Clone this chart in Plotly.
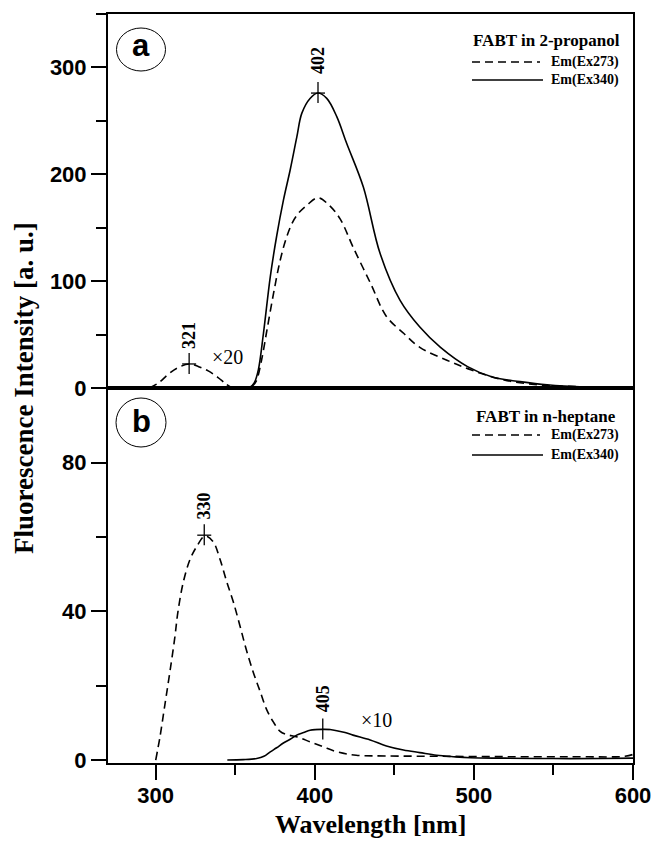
import plotly.graph_objects as go
from plotly.subplots import make_subplots

# ---------------- data ----------------
# Panel a: FABT in 2-propanol
wl_a_ex273 = [287, 300, 320, 340, 355, 360, 363, 366.5, 370, 374, 378, 382, 386, 390, 395, 402,
              409, 416, 424, 435, 445, 456, 466, 483, 498, 519, 540, 560, 580, 600]
int_a_ex273 = [0, 0, 0, 0, 0, 1, 6, 26, 55, 88, 118, 140, 155, 164, 171, 178,
               171, 158, 132, 98, 67, 51, 38, 26, 17, 7.5, 3, 1.5, 0.8, 0.3]

wl_a_ex273_x20 = [296, 302, 308, 314, 321, 327, 333, 339, 344, 348]
int_a_ex273_x20 = [0, 5, 13, 19, 22.5, 20, 16, 10, 4, 0]

wl_a_ex340 = [347, 355, 359, 362, 364.5, 367.7, 372, 376, 380.3, 384.5, 388.7, 391.8, 397, 402,
              407.5, 413.8, 420, 430.5, 441, 453.6, 466, 479, 496, 512, 529, 546, 570, 600]
int_a_ex340 = [0, 0, 0.5, 5, 17, 51, 104, 142, 176, 204, 235, 257, 271, 276,
               271, 254, 229, 188, 126, 82, 57, 38, 20, 10, 6, 3, 1, 0.3]

# Panel b: FABT in n-heptane
wl_b_ex273 = [300, 302.7, 305.8, 309, 312, 314, 317.4, 321.6, 325.7, 331, 336, 340.4, 344.6, 348.8,
              353, 357, 361.4, 365.6, 369.8, 374, 378, 382, 389, 397, 405, 414, 426, 445, 480,
              520, 560, 595, 600]
int_b_ex273 = [0, 6.3, 15, 24, 33, 40, 48, 54, 57.4, 60.3, 58.8, 54, 48, 42.5,
               36, 29.6, 23.5, 18.5, 13.5, 10.2, 7.8, 6.9, 6.2, 4.9, 3.6, 2.2, 1.3, 1.1, 1.0,
               0.9, 0.9, 1.0, 1.5]

wl_b_ex340 = [345, 355, 363.5, 368, 372, 376, 380, 384.5, 388.6, 393, 397, 401, 405.4, 409.5,
              413.8, 419, 424, 434.8, 445, 455.7, 466, 476.6, 487, 497.7, 520, 550, 580, 600]
int_b_ex340 = [0, 0.1, 0.4, 1.0, 2.2, 3.3, 4.5, 5.6, 6.7, 7.4, 8.0, 8.2, 8.3, 8.2,
               7.9, 7.4, 6.7, 5.4, 3.8, 2.7, 2.0, 1.3, 0.9, 0.6, 0.5, 0.4, 0.4, 0.5]

# peak markers: (wavelength, intensity, label, label offset px)
peaks_a = [(321, 22.5, "321", 28), (402, 276, "402", 32)]
peaks_b = [(330.5, 60.5, "330", 29), (405, 8.2, "405", 31)]

x_ticks = [300, 400, 500, 600]
ya_ticks = [0, 100, 200, 300]
yb_ticks = [0, 40, 80]

# ---------------- geometry helpers ----------------
W, H = 652, 843
ML, MR, MT, MB = 108, 19, 14, 80
PW, PH = W - ML - MR, H - MT - MB
split = (763 - 388) / PH


def px(xp):
    return (xp - ML) / PW


def py(yp):
    return (H - MB - yp) / PH


DASH = "8px,5px"
LW = 1.6
BLACK = "#000000"

fig = make_subplots(rows=2, cols=1, shared_xaxes=True, vertical_spacing=0)

fig.add_trace(go.Scatter(x=wl_a_ex273, y=int_a_ex273, mode="lines", line_shape="spline",
                         line=dict(color=BLACK, width=LW, dash=DASH), showlegend=False), row=1, col=1)
fig.add_trace(go.Scatter(x=wl_a_ex273_x20, y=int_a_ex273_x20, mode="lines", line_shape="spline",
                         line=dict(color=BLACK, width=LW, dash=DASH), showlegend=False), row=1, col=1)
fig.add_trace(go.Scatter(x=wl_a_ex340, y=int_a_ex340, mode="lines", line_shape="spline",
                         line=dict(color=BLACK, width=LW), showlegend=False), row=1, col=1)
fig.add_trace(go.Scatter(x=wl_b_ex273, y=int_b_ex273, mode="lines", line_shape="spline",
                         line=dict(color=BLACK, width=LW, dash=DASH), showlegend=False), row=2, col=1)
fig.add_trace(go.Scatter(x=wl_b_ex340, y=int_b_ex340, mode="lines", line_shape="spline",
                         line=dict(color=BLACK, width=LW), showlegend=False), row=2, col=1)

tickfont = dict(family="Liberation Sans", size=22, color=BLACK, weight="bold")
axis_common = dict(showline=True, linecolor=BLACK, linewidth=2, mirror=True, automargin=False,
                   showgrid=False, zeroline=False, ticks="outside", tickcolor=BLACK,
                   tickwidth=2, ticklen=15, tickfont=tickfont)

fig.update_layout(
    width=W, height=H, margin=dict(l=ML, r=MR, t=MT, b=MB, autoexpand=False),
    paper_bgcolor="white", plot_bgcolor="white",
    xaxis=dict(axis_common, range=[270, 600], ticks="", showticklabels=False,
               domain=[0, 1]),
    xaxis2=dict(axis_common, range=[270, 600], tickvals=x_ticks, ticklabelstandoff=-3,
                minor=dict(dtick=50, tick0=0, ticks="outside", ticklen=10, tickwidth=2, tickcolor=BLACK),
                domain=[0, 1]),
    yaxis=dict(axis_common, range=[0, 350], tickvals=ya_ticks,
               minor=dict(dtick=50, tick0=0, ticks="outside", ticklen=10, tickwidth=2, tickcolor=BLACK),
               domain=[split, 1]),
    yaxis2=dict(axis_common, range=[-0.8, 100.1], tickvals=yb_ticks,
                minor=dict(tickvals=[20, 60], ticks="outside", ticklen=10, tickwidth=2, tickcolor=BLACK),
                domain=[0, split]),
)

shapes = []
annotations = []

# peak crosses and labels
for (pk, yref) in ((peaks_a, "y"), (peaks_b, "y2")):
    xref = "x" if yref == "y" else "x2"
    for (xw, yv, lab, off) in pk:
        shapes.append(dict(type="line", xref=xref, yref=yref, x0=xw, x1=xw,
                           ysizemode="pixel", yanchor=yv, y0=-10, y1=11,
                           line=dict(color=BLACK, width=1.3)))
        shapes.append(dict(type="line", xref=xref, yref=yref, xsizemode="pixel", xanchor=xw,
                           x0=-7, x1=7, y0=yv, y1=yv, line=dict(color=BLACK, width=1.3)))
        annotations.append(dict(x=xw, y=yv, xref=xref, yref=yref, text=lab, textangle=-90,
                                showarrow=False, xanchor="center", yanchor="middle", yshift=off,
                                font=dict(family="Liberation Serif", size=18, color=BLACK, weight="bold")))

# multiplier notes
annotations.append(dict(x=px(210), y=py(357), xref="paper", yref="paper", text="×20", showarrow=False,
                        xanchor="left", yanchor="middle",
                        font=dict(family="Liberation Serif", size=20, color=BLACK)))
annotations.append(dict(x=px(359), y=py(720), xref="paper", yref="paper", text="×10", showarrow=False,
                        xanchor="left", yanchor="middle",
                        font=dict(family="Liberation Serif", size=20, color=BLACK)))

# panel letters in circles
for (cx, cy, rx, ry, lab, ty) in ((141, 49.5, 24.5, 21.5, "a", 45), (141, 422.5, 25, 24.5, "b", 421)):
    shapes.append(dict(type="circle", xref="paper", yref="paper",
                       x0=px(cx - rx), x1=px(cx + rx), y0=py(cy + ry), y1=py(cy - ry),
                       line=dict(color=BLACK, width=1)))
    annotations.append(dict(x=px(cx), y=py(ty), xref="paper", yref="paper", text=lab, showarrow=False,
                            xanchor="center", yanchor="middle",
                            font=dict(family="Liberation Sans", size=31, color=BLACK, weight="bold")))

# legends (drawn as text + sample lines)
for (title, ty, y1, y2) in (("FABT in 2-propanol", 41, 62, 80), ("FABT in n-heptane", 416, 435, 455)):
    annotations.append(dict(x=px(546), y=py(ty), xref="paper", yref="paper", text=title, showarrow=False,
                            xanchor="center", yanchor="middle",
                            font=dict(family="Liberation Serif", size=17, color=BLACK, weight="bold")))
    for (yy, lab, dash, xe) in ((y1, "Em(Ex273)", DASH, 540), (y2, "Em(Ex340)", "solid", 543)):
        shapes.append(dict(type="line", xref="paper", yref="paper", x0=px(472), x1=px(xe),
                           y0=py(yy), y1=py(yy), line=dict(color=BLACK, width=1.6, dash=dash)))
        annotations.append(dict(x=px(549), y=py(yy), xref="paper", yref="paper", text=lab, showarrow=False,
                                xanchor="left", yanchor="middle",
                                font=dict(family="Liberation Serif", size=14, color=BLACK, weight="bold")))

# axis titles
annotations.append(dict(x=px(370.5), y=py(824), xref="paper", yref="paper", text="Wavelength [nm]",
                        showarrow=False, xanchor="center", yanchor="middle",
                        font=dict(family="Liberation Serif", size=26, color=BLACK, weight="bold")))
annotations.append(dict(x=px(24), y=py(388), xref="paper", yref="paper",
                        text="Fluorescence Intensity [a. u.]", textangle=-90,
                        showarrow=False, xanchor="center", yanchor="middle",
                        font=dict(family="Liberation Serif", size=27, color=BLACK, weight="bold")))

fig.update_layout(shapes=shapes, annotations=annotations)

fig.write_html("out.html", config={"displayModeBar": False},
               post_script="document.body.style.margin='0';document.body.style.padding='0';")
